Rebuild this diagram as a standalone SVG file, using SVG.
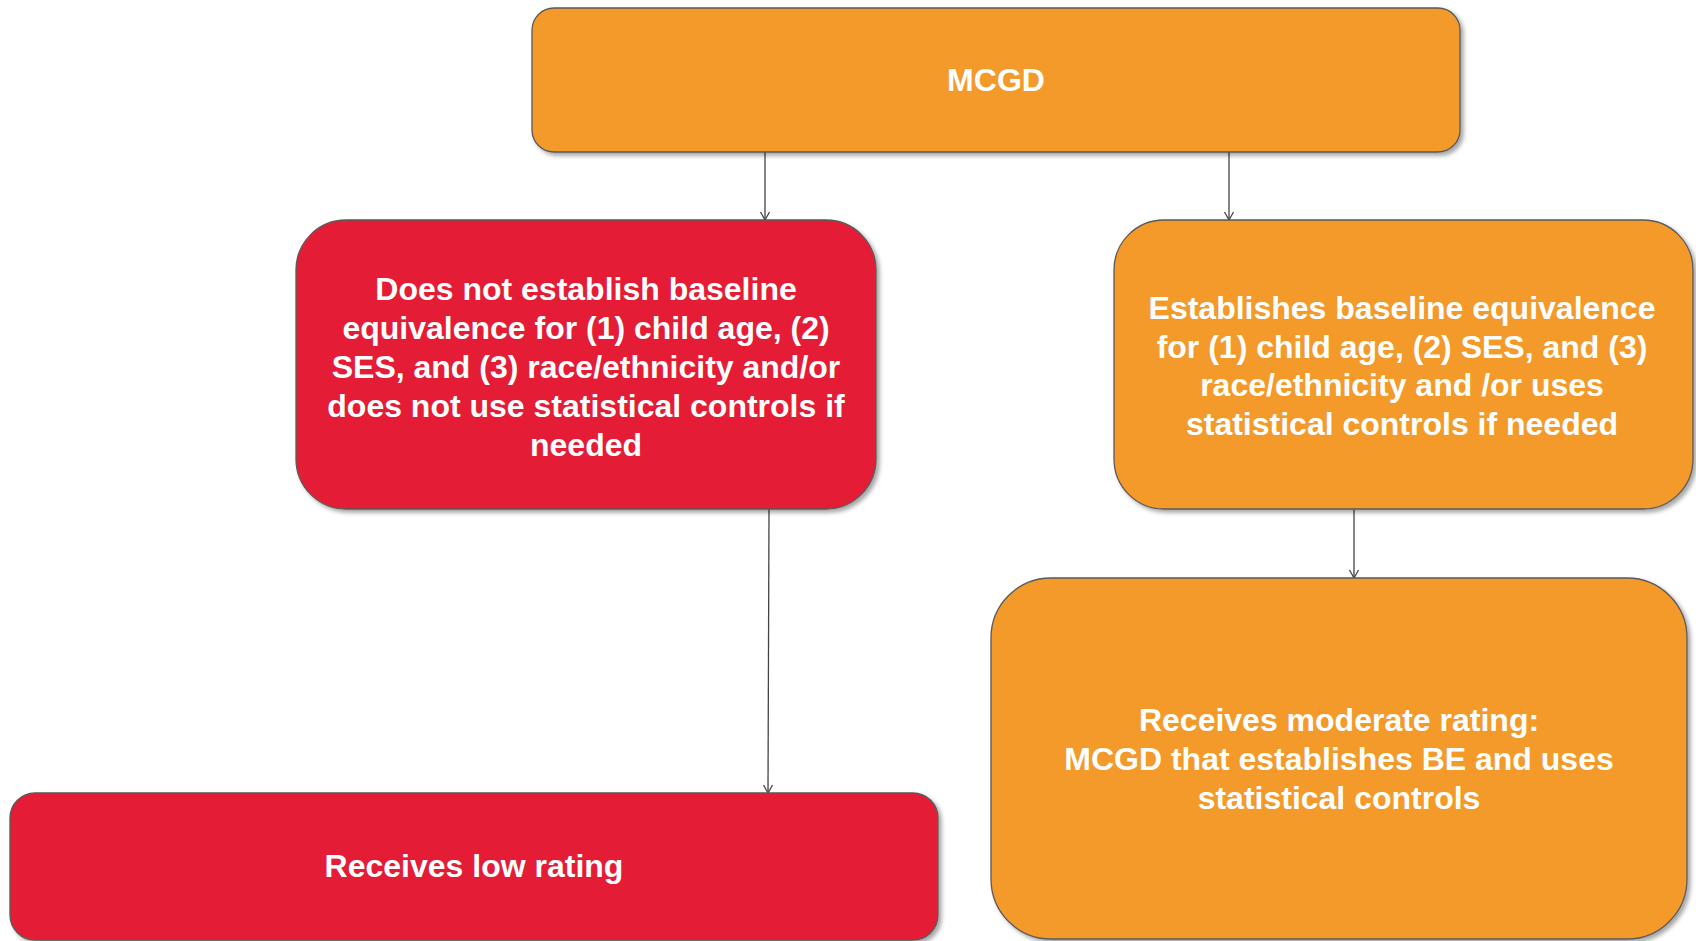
<svg xmlns="http://www.w3.org/2000/svg" width="1696" height="941" viewBox="0 0 1696 941">
<style>
.box{stroke:#5a5a5a;stroke-width:1.3;filter:url(#sh)}
.orange{fill:#F39A2B}
.red{fill:#E41E36}
.t{font-family:"Liberation Sans",Arial,sans-serif;font-weight:bold;font-size:32px;fill:#ffffff;text-anchor:middle;dominant-baseline:central}
.c{stroke:#444;stroke-width:1.3;fill:none;marker-end:url(#ah)}
</style>
<defs>
<filter id="sh" x="-5%" y="-5%" width="110%" height="115%">
<feDropShadow dx="3" dy="3" stdDeviation="2" flood-color="#000" flood-opacity="0.35"/>
</filter>
<marker id="ah" markerWidth="12" markerHeight="12" refX="10" refY="6" orient="auto" markerUnits="userSpaceOnUse" viewBox="0 0 12 12">
<path d="M2,1.5 L10,6 L2,10.5" fill="none" stroke="#444" stroke-width="1.3"/>
</marker>
</defs>
<rect width="1696" height="941" fill="#ffffff"/>
<g id="connectors">
<line class="c" x1="765" y1="152" x2="765" y2="220"/>
<line class="c" x1="1229" y1="152" x2="1229" y2="220"/>
<line class="c" x1="769" y1="509" x2="768" y2="793"/>
<line class="c" x1="1354" y1="509" x2="1354" y2="578"/>
</g>
<g id="mcgd">
<rect class="box orange" x="532" y="8" width="928" height="144" rx="22"/>
<text class="t" x="996" y="80">MCGD</text>
</g>
<g id="no-be">
<rect class="box red" x="296" y="220" width="580" height="289" rx="50"/>
<text class="t" x="586" y="289">Does not establish baseline</text>
<text class="t" x="586" y="328">equivalence for (1) child age, (2)</text>
<text class="t" x="586" y="367">SES,  and (3) race/ethnicity and/or</text>
<text class="t" x="586" y="406">does not use statistical controls if</text>
<text class="t" x="586" y="445">needed</text>
</g>
<g id="be">
<rect class="box orange" x="1114" y="220" width="579" height="289" rx="50"/>
<text class="t" x="1402" y="308">Establishes baseline equivalence</text>
<text class="t" x="1402" y="347">for (1) child age, (2) SES, and (3)</text>
<text class="t" x="1402" y="385">race/ethnicity and /or uses</text>
<text class="t" x="1402" y="424">statistical controls if needed</text>
</g>
<g id="low">
<rect class="box red" x="10" y="793" width="928" height="147" rx="25"/>
<text class="t" x="474" y="866">Receives  low rating</text>
</g>
<g id="moderate">
<rect class="box orange" x="991" y="578" width="696" height="361" rx="60"/>
<text class="t" x="1339" y="720">Receives  moderate rating:</text>
<text class="t" x="1339" y="759">MCGD that establishes BE and uses</text>
<text class="t" x="1339" y="798">statistical controls</text>
</g>
</svg>
